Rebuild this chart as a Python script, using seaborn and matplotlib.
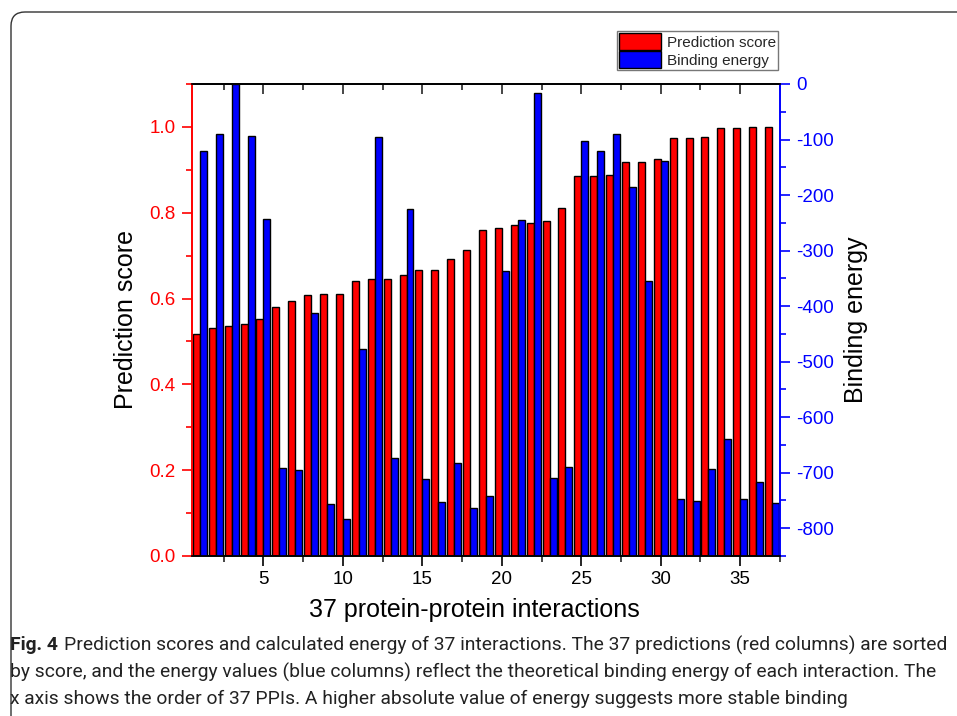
"""Prediction score vs binding energy for 37 PPIs (twin-axis bar chart)."""
import numpy as np
import matplotlib.pyplot as plt
import seaborn as sns
from matplotlib.patches import Patch, FancyBboxPatch
from matplotlib.ticker import MultipleLocator
from matplotlib.transforms import IdentityTransform

# order of the 37 interactions
interaction = list(range(1, 38))

# red columns: prediction score (left axis)
pred_score = [0.517, 0.531, 0.535, 0.540, 0.552, 0.580, 0.594, 0.608, 0.611, 0.611,
              0.640, 0.645, 0.645, 0.655, 0.666, 0.667, 0.692, 0.713, 0.759, 0.765,
              0.771, 0.775, 0.781, 0.810, 0.885, 0.886, 0.888, 0.918, 0.918, 0.925,
              0.974, 0.974, 0.977, 0.997, 0.997, 0.999, 0.999]

# blue columns: binding energy (right axis)
binding_energy = [-120, -90, 0, -93, -243, -692, -695, -412, -756, -783,
                  -477, -96, -673, -226, -712, -752, -682, -763, -742, -337,
                  -245, -16, -710, -690, -102, -120, -90, -186, -354, -138,
                  -748, -751, -693, -640, -747, -716, -755]

score_lim = (0.0, 1.1)
energy_lim = (-850, 0)

sns.set_theme(style='ticks')
plt.rcParams['font.family'] = ['Liberation Sans', 'DejaVu Sans']
plt.rcParams['axes.unicode_minus'] = False

fig = plt.figure(figsize=(9.57, 7.16), dpi=100)
ax = fig.add_axes([0.2006, 0.2235, 0.6144, 0.6592])
ax2 = ax.twinx()

x = np.array(interaction, dtype=float)
bar_w = 0.44

sns.barplot(x=x - bar_w / 2, y=pred_score, native_scale=True, width=bar_w,
            color='#ff0000', saturation=1, edgecolor='black', linewidth=1,
            errorbar=None, ax=ax)
ax2.bar(x + bar_w / 2, np.array(binding_energy) - energy_lim[0], bottom=energy_lim[0],
        width=bar_w, color='#0000ff', edgecolor='black', linewidth=1)

ax.set_xlim(0.5, 37.5)
ax.set_ylim(*score_lim)
ax2.set_ylim(*energy_lim)

# x axis
ax.xaxis.set_major_locator(MultipleLocator(5))
ax.xaxis.set_minor_locator(MultipleLocator(2.5))
ax.set_xticks([5, 10, 15, 20, 25, 30, 35])
ax.tick_params(axis='x', which='major', direction='out', length=7, width=1.2,
               labelsize=13.5, colors='black', pad=4)
ax.tick_params(axis='x', which='minor', direction='out', length=4, width=1.2)
top = ax.secondary_xaxis('top')
top.xaxis.set_major_locator(MultipleLocator(5))
top.xaxis.set_minor_locator(MultipleLocator(2.5))
top.tick_params(which='major', direction='in', length=7, width=1.2, labeltop=False)
top.tick_params(which='minor', direction='in', length=4, width=1.2)
top.spines['top'].set_linewidth(1.2)

# left axis (red)
ax.yaxis.set_major_locator(MultipleLocator(0.2))
ax.yaxis.set_minor_locator(MultipleLocator(0.1))
ax.tick_params(axis='y', which='major', direction='out', length=7, width=1.2,
               colors='#ff0000', labelsize=13.5, pad=5)
ax.tick_params(axis='y', which='minor', direction='out', length=4, width=1.2,
               colors='#ff0000')
ax.yaxis.set_major_formatter(lambda v, p: f'{v:.1f}')

# right axis (blue)
ax2.yaxis.set_major_locator(MultipleLocator(100))
ax2.yaxis.set_minor_locator(MultipleLocator(50))
ax2.tick_params(axis='y', which='major', direction='out', length=7, width=1.2,
                colors='#0000ff', labelsize=13.5, pad=5)
ax2.tick_params(axis='y', which='minor', direction='out', length=4, width=1.2,
                colors='#0000ff')

for a in (ax, ax2):
    for s in a.spines.values():
        s.set_linewidth(1.2)
        s.set_color('black')
    a.spines['left'].set_color('#ff0000')
    a.spines['right'].set_color('#0000ff')
    a.grid(False)

ax.set_xlabel('37 protein-protein interactions', fontsize=18, color='black')
ax.xaxis.set_label_coords(0.481, -0.088)
ax.set_ylabel('Prediction score', fontsize=18, color='black', labelpad=8)
ax2.set_ylabel('Binding energy', fontsize=18, color='black', labelpad=7)

handles = [Patch(facecolor='#ff0000', edgecolor='black', label='Prediction score'),
           Patch(facecolor='#0000ff', edgecolor='black', label='Binding energy')]
fig.legend(handles=handles, loc='upper right', bbox_to_anchor=(0.813, 0.957),
           fontsize=11, frameon=True, fancybox=False, edgecolor='#555555',
           handlelength=2.7, handleheight=1.3, handletextpad=0.4,
           labelspacing=0.1, borderpad=0.15, borderaxespad=0)

# rounded frame around the figure panel
frame = FancyBboxPatch((11, -40), 1000, 716 - 12 + 40,
                       boxstyle='round,pad=0,rounding_size=14',
                       transform=IdentityTransform(), facecolor='none',
                       edgecolor='#333333', linewidth=1.0)
fig.patches.append(frame)

# caption, sized so its widest line spans the panel width
cap_font = ['Roboto', 'DejaVu Sans']
lines = [
    'Prediction scores and calculated energy of 37 interactions. The 37 predictions (red columns) are sorted',
    'by score, and the energy values (blue columns) reflect the theoretical binding energy of each interaction. The',
    'x axis shows the order of 37 PPIs. A higher absolute value of energy suggests more stable binding',
]
ys = [1 - 645 / 716, 1 - 672 / 716, 1 - 699 / 716]
renderer = fig.canvas.get_renderer()
gap = 6
p_head = fig.text(0, 0, 'Fig. 4', fontsize=14, fontweight='bold', family=cap_font)
p0 = fig.text(0, 0, lines[0], fontsize=14, family=cap_font)
p1 = fig.text(0, 0, lines[1], fontsize=14, family=cap_font)
w_first = (p_head.get_window_extent(renderer).width + gap
           + p0.get_window_extent(renderer).width)
w_second = p1.get_window_extent(renderer).width
cap_size = 14 * 944 / max(w_first, w_second)
for p in (p_head, p0, p1):
    p.remove()

head = fig.text(10 / 957, ys[0], 'Fig. 4', fontsize=cap_size, fontweight='bold',
                family=cap_font, va='center', ha='left', color='#222222')
w = head.get_window_extent(renderer).width
fig.text(10 / 957 + (w + gap) / 957, ys[0], lines[0], fontsize=cap_size, family=cap_font,
         va='center', ha='left', color='#222222')
for line, y in zip(lines[1:], ys[1:]):
    fig.text(10 / 957, y, line, fontsize=cap_size, family=cap_font,
             va='center', ha='left', color='#222222')

fig.savefig('out.png', dpi=100)
plt.close(fig)
